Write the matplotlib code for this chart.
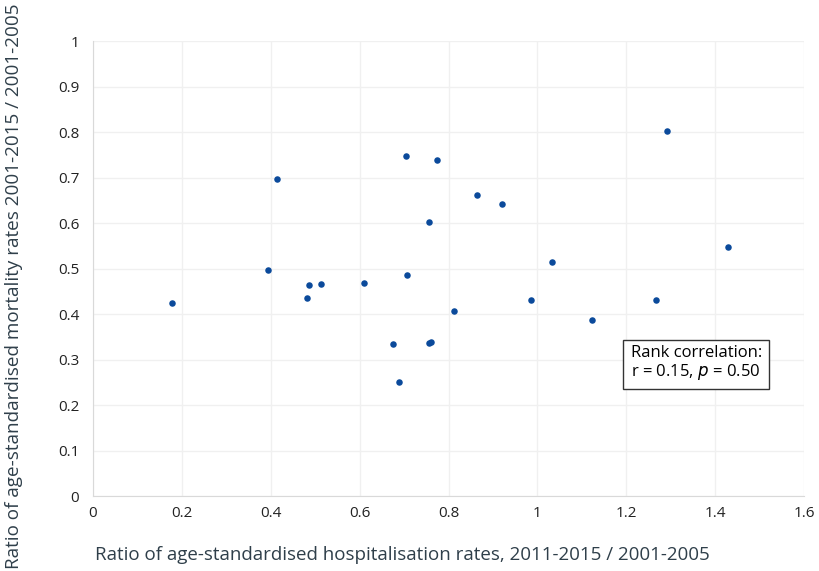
import numpy as np
import matplotlib.pyplot as plt

# Data
hosp_ratio = [0.178, 0.394, 0.414, 0.482, 0.486, 0.514, 0.610, 0.676, 0.689,
              0.705, 0.707, 0.757, 0.757, 0.761, 0.773, 0.813, 0.865, 0.921,
              0.986, 1.032, 1.122, 1.268, 1.291, 1.428]
mort_ratio = [0.424, 0.497, 0.697, 0.435, 0.464, 0.466, 0.468, 0.334, 0.250,
              0.747, 0.486, 0.602, 0.336, 0.338, 0.738, 0.407, 0.662, 0.642,
              0.431, 0.514, 0.387, 0.431, 0.802, 0.547]

x_ticks = [0, 0.2, 0.4, 0.6, 0.8, 1, 1.2, 1.4, 1.6]
x_tick_labels = ['0', '0.2', '0.4', '0.6', '0.8', '1', '1.2', '1.4', '1.6']
y_ticks = [0, 0.1, 0.2, 0.3, 0.4, 0.5, 0.6, 0.7, 0.8, 0.9, 1]
y_tick_labels = ['0', '0.1', '0.2', '0.3', '0.4', '0.5', '0.6', '0.7', '0.8', '0.9', '1']

plt.rcParams['font.family'] = ['Open Sans', 'DejaVu Sans']

fig = plt.figure(figsize=(8.19, 5.71), dpi=100)
ax = fig.add_axes([0.1136, 0.131, 0.8681, 0.797])

ax.scatter(hosp_ratio, mort_ratio, s=22, color='#0b4a9b', zorder=3, linewidths=0)

ax.set_xlim(0, 1.6)
ax.set_ylim(0, 1)
ax.set_xticks(x_ticks)
ax.set_xticklabels(x_tick_labels)
ax.set_yticks(y_ticks)
ax.set_yticklabels(y_tick_labels)
ax.tick_params(length=0, labelsize=11, colors='#222222')
ax.tick_params(axis='y', pad=10)
ax.tick_params(axis='x', pad=7)

# light grid and spines
ax.grid(True, color='#f0f0f0', linewidth=1)
ax.set_axisbelow(True)
for side in ['top', 'right']:
    ax.spines[side].set_visible(False)
for side in ['left', 'bottom']:
    ax.spines[side].set_color('#d9d9d9')

# rank correlation box
ax.text(1.21, 0.332, 'Rank correlation:\nr = 0.15, $p$ = 0.50', fontsize=12,
        va='top', ha='left', linespacing=1.05,
        bbox=dict(boxstyle='square,pad=0.45', facecolor='white', edgecolor='#333333', linewidth=1))

# axis titles
fig.text(0.116, 0.012, 'Ratio of age-standardised hospitalisation rates, 2011-2015 / 2001-2005',
         fontsize=13.5, color='#2f3f4a', ha='left', va='bottom')
fig.text(0.006, 0.004, 'Ratio of age-standardised mortality rates 2001-2015 / 2001-2005',
         fontsize=13.6, color='#2f3f4a', rotation=90, ha='left', va='bottom')

fig.savefig('out.png', dpi=100)
